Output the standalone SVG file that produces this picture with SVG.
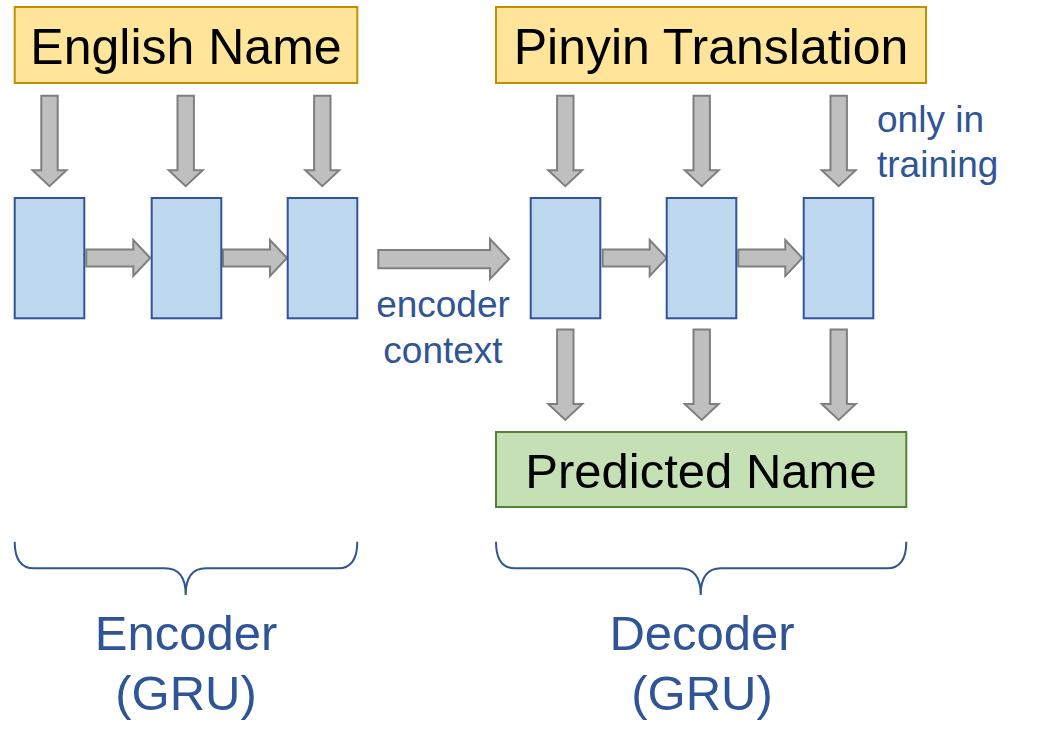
<svg xmlns="http://www.w3.org/2000/svg" xmlns:xlink="http://www.w3.org/1999/xlink" width="1051" height="752" viewBox="0 0 1051 752">
<style>
.lbl{font-family:"Liberation Sans",Arial,sans-serif;fill:#000;text-anchor:middle}
.blue{font-family:"Liberation Sans",Arial,sans-serif;fill:#2F5597}
.inbox{fill:#FFE599;stroke:#BF9000;stroke-width:2}
.outbox{fill:#C5E0B4;stroke:#548235;stroke-width:2}
.cell{fill:#BDD7EE;stroke:#2F5597;stroke-width:2}
.arr{fill:#BFBFBF;stroke:#7F7F7F;stroke-width:2;stroke-linejoin:miter}
.brace{fill:none;stroke:#2F5597;stroke-width:2}
</style>
<defs>
<path id="down" d="M-8.2 0 H8.2 V74.5 H17 L0 90.5 L-17 74.5 H-8.2 Z"/>
<path id="right" d="M0 -8.6 H47 V-18 L64 0 L47 18 V8.6 H0 Z"/>
</defs>
<rect width="1051" height="752" fill="#fff"/>
<g id="connectors">
<use xlink:href="#down" class="arr" x="49.5" y="95.7"/>
<use xlink:href="#down" class="arr" x="185.7" y="95.7"/>
<use xlink:href="#down" class="arr" x="322.3" y="95.7"/>
<use xlink:href="#down" class="arr" x="565.3" y="95.7"/>
<use xlink:href="#down" class="arr" x="701.7" y="95.7"/>
<use xlink:href="#down" class="arr" x="838.7" y="95.7"/>
<use xlink:href="#down" class="arr" x="565.3" y="329.5"/>
<use xlink:href="#down" class="arr" x="701.7" y="329.5"/>
<use xlink:href="#down" class="arr" x="838.7" y="329.5"/>
<use xlink:href="#right" class="arr" x="86.3" y="258"/>
<use xlink:href="#right" class="arr" x="223" y="258"/>
<use xlink:href="#right" class="arr" x="602.7" y="258"/>
<use xlink:href="#right" class="arr" x="738.3" y="258"/>
<path class="arr" d="M378.3 250 H490 V239 L509 259 L490 279 V268.3 H378.3 Z"/>
</g>
<g id="english-name">
<rect class="inbox" x="14.7" y="7" width="342.6" height="76"/>
<text class="lbl" x="186" y="64" font-size="50">English Name</text>
</g>
<g id="pinyin-translation">
<rect class="inbox" x="496" y="7" width="430" height="76"/>
<text class="lbl" x="711" y="64" font-size="50">Pinyin Translation</text>
</g>
<g id="enc1"><rect class="cell" x="14.7" y="198" width="69.6" height="120.3"/></g>
<g id="enc2"><rect class="cell" x="151.7" y="198" width="69.6" height="120.3"/></g>
<g id="enc3"><rect class="cell" x="287.7" y="198" width="69.6" height="120.3"/></g>
<g id="dec1"><rect class="cell" x="530.7" y="198" width="69.6" height="120.3"/></g>
<g id="dec2"><rect class="cell" x="666.7" y="198" width="69.6" height="120.3"/></g>
<g id="dec3"><rect class="cell" x="803.7" y="198" width="69.6" height="120.3"/></g>
<g id="predicted-name">
<rect class="outbox" x="496" y="432" width="410.3" height="75"/>
<text class="lbl" x="701" y="488.3" font-size="49">Predicted Name</text>
</g>
<g id="encoder-context-label">
<text class="blue" x="443" y="317" font-size="37" text-anchor="middle">encoder</text>
<text class="blue" x="443" y="362.5" font-size="37" text-anchor="middle">context</text>
</g>
<g id="training-label">
<text class="blue" x="877" y="131.5" font-size="37">only in</text>
<text class="blue" x="877" y="176.5" font-size="37">training</text>
</g>
<g id="encoder-brace">
<path class="brace" d="M14.7 541.7 Q14.7 568.3 34 568.3 H165 Q185.7 568.3 185.7 595 Q185.7 568.3 206 568.3 H338 Q357.3 568.3 357.3 541.7"/>
<text class="blue" x="186" y="650" font-size="49" text-anchor="middle">Encoder</text>
<text class="blue" x="186" y="710" font-size="49" text-anchor="middle">(GRU)</text>
</g>
<g id="decoder-brace">
<path class="brace" d="M496 541.7 Q496 568.3 515 568.3 H680 Q700.7 568.3 700.7 595 Q700.7 568.3 721 568.3 H887 Q906.3 568.3 906.3 541.7"/>
<text class="blue" x="702" y="650" font-size="49" text-anchor="middle">Decoder</text>
<text class="blue" x="702" y="710" font-size="49" text-anchor="middle">(GRU)</text>
</g>
</svg>
